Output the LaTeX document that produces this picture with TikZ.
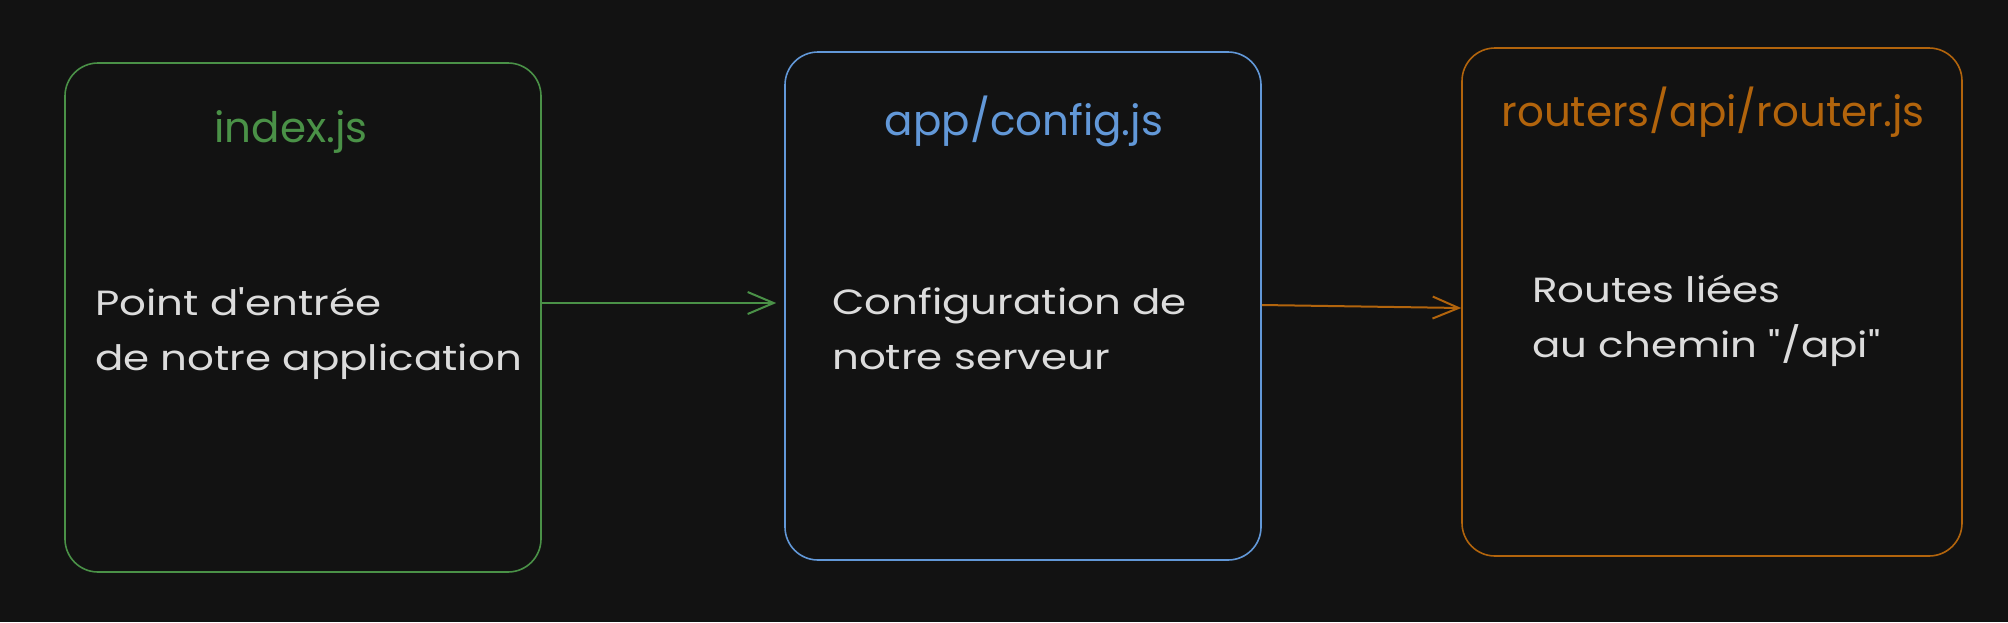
\documentclass[tikz,border=0pt]{standalone}
\usepackage{fontspec}
\usetikzlibrary{arrows.meta}
\newfontfamily\titlefnt[Ligatures={TeXOff,CommonOff}]{Poppins}
\newfontfamily\bodyfnt[FakeStretch=1.2,Ligatures={TeXOff,CommonOff}]{Poppins}
\definecolor{bg}{HTML}{121212}
\definecolor{cgreen}{HTML}{4A9147}
\definecolor{cblue}{HTML}{6298D8}
\definecolor{corange}{HTML}{B2640C}
\definecolor{ctext}{HTML}{DCDCDC}
\tikzset{
  box/.style={draw, line width=1.6pt, rounded corners=33pt, inner sep=0pt, fill=bg},
  ttl/.style={font=\titlefnt\fontsize{42}{50}\selectfont, inner sep=0pt, anchor=base},
  bodytext/.style={font=\bodyfnt\fontsize{35}{55}\selectfont, text=ctext, align=left, inner sep=0pt, anchor=base west},
  conn/.style={line width=2pt, -{Straight Barb[length=26pt,width=22pt,line width=2pt]}},
}
\begin{document}
\begin{tikzpicture}[x=1pt,y=-1pt]
\fill[bg] (0,0) rectangle (2008,622);
\useasboundingbox (0,0) rectangle (2008,622);
\node[box, draw=cgreen, minimum width=476pt, minimum height=509pt] (b1) at (303,317.5) {};
\node[box, draw=cblue, minimum width=476pt, minimum height=508pt] (b2) at (1023,306) {};
\node[box, draw=corange, minimum width=500pt, minimum height=508pt] (b3) at (1712,302) {};
\node[ttl, text=cgreen] (t1) at (291,142) {index.js};
\node[ttl, text=cblue] (t2) at (1024,135) {app/config.js};
\node[ttl, text=corange] (t3) at (1713,126) {routers/api/router.js};
\node[bodytext] (d1) at (95,370) {Point d'entrée\\de notre application};
\node[bodytext] (d2) at (832,369) {Configuration de\\notre serveur};
\node[bodytext] (d3) at (1532,357) {Routes liées\\au chemin "/api"};
\draw[conn, cgreen] ([yshift=14.5pt]b1.east) -- ([yshift=3pt,xshift=-8pt]b2.west);
\draw[conn, corange] ([yshift=1pt]b2.east) -- ([yshift=-6pt]b3.west);
\end{tikzpicture}
\end{document}
